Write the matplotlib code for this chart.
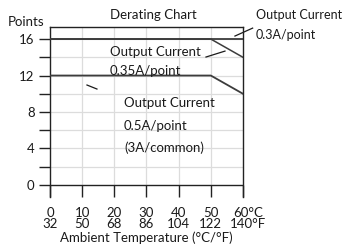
import matplotlib
matplotlib.use("Agg")
import matplotlib.pyplot as plt
import matplotlib.transforms as mtransforms

plt.rcParams['font.family'] = ['Lato', 'DejaVu Sans']

# temperature axis (C and F)
temps_c = [0, 10, 20, 30, 40, 50, 60]
temps_f = [32, 50, 68, 86, 104, 122, 140]

# derating curves (temperature C, points)
x_03 = [0, 60]
y_03 = [16, 16]
x_035 = [0, 50, 60]
y_035 = [16, 16, 14]
x_05 = [0, 50, 60]
y_05 = [12, 12, 10]

y_ticks = [0, 2, 4, 6, 8, 10, 12, 14, 16]
y_labels = ['0', '', '4', '', '8', '', '12', '', '16']

line_col = '#3c3c3c'
txt = '#1a1a1a'
fs = 9.5

fig = plt.figure(figsize=(3.45, 2.49), dpi=100)
ax = fig.add_axes([0.1449, 0.2088, 0.5594, 0.6827])

ax.set_xlim(0, 60)
ax.set_ylim(-1.32, 17.32)

# grid
for t in temps_c[1:-1]:
    ax.plot([t, t], [0, 17.32], color='#dcdcdc', lw=0.9, zorder=0)
for v in y_ticks[1:]:
    ax.plot([0, 60], [v, v], color='#dcdcdc', lw=0.9, zorder=0)

ax.axhline(0, color='#222222', lw=1.0, zorder=1)

ax.plot(x_03, y_03, color=line_col, lw=1.3, zorder=3)
ax.plot(x_035, y_035, color=line_col, lw=1.1, zorder=3)
ax.plot(x_05, y_05, color=line_col, lw=1.3, zorder=3)

for s in ['left', 'right', 'top']:
    ax.spines[s].set_color('#222222')
    ax.spines[s].set_linewidth(1.0)
ax.spines['bottom'].set_visible(False)

ax.set_yticks(y_ticks)
ax.set_yticklabels(y_labels, fontsize=fs, color=txt)
ax.tick_params(axis='y', length=8, width=1.0, pad=3, color='#222222')

ax.set_xticks(temps_c)
labels = [f"{c}\n{f}" for c, f in zip(temps_c, temps_f)]
labels[-1] = f"{temps_c[-1]}°C\n{temps_f[-1]}°F"
ax.set_xticklabels(labels, fontsize=fs, color=txt, linespacing=0.95)
ax.tick_params(axis='x', direction='in', length=9, width=1.0, pad=7, color='#222222')
last = ax.get_xticklabels()[-1]
last.set_transform(last.get_transform() +
                   mtransforms.ScaledTranslation(5 / 100, 0, fig.dpi_scale_trans))

ax.set_xlabel('Ambient Temperature (°C/°F)', fontsize=fs, color=txt, labelpad=1)

# texts
ax.text(32, 18.6, 'Derating Chart', ha='center', va='center', fontsize=fs,
        color=txt, clip_on=False)
ax.text(-13.1, 17.85, 'Points', ha='left', va='center', fontsize=fs,
        color=txt, clip_on=False)

ax.text(64.0, 18.6, 'Output Current', ha='left', va='center', fontsize=9,
        color=txt, clip_on=False)
ax.text(64.0, 16.45, '0.3A/point', ha='left', va='center', fontsize=9,
        color=txt, clip_on=False)
ax.plot([63.0, 57.5], [17.2, 16.33], color=txt, lw=0.9, clip_on=False)

ax.text(18.65, 14.58, 'Output Current', ha='left', va='center', fontsize=fs,
        color=txt)
ax.text(18.65, 12.5, '0.35A/point', ha='left', va='center', fontsize=fs,
        color=txt)
ax.plot([48.5, 54.4], [14.03, 14.68], color=txt, lw=0.9)
ax.plot([11.5, 14.6], [10.96, 10.52], color=txt, lw=0.9)

ax.text(23.0, 8.99, 'Output Current', ha='left', va='center', fontsize=fs,
        color=txt)
ax.text(23.0, 6.52, '0.5A/point', ha='left', va='center', fontsize=fs,
        color=txt)
ax.text(23.0, 4.05, '(3A/common)', ha='left', va='center', fontsize=fs,
        color=txt)

fig.savefig('out.png', dpi=100)
